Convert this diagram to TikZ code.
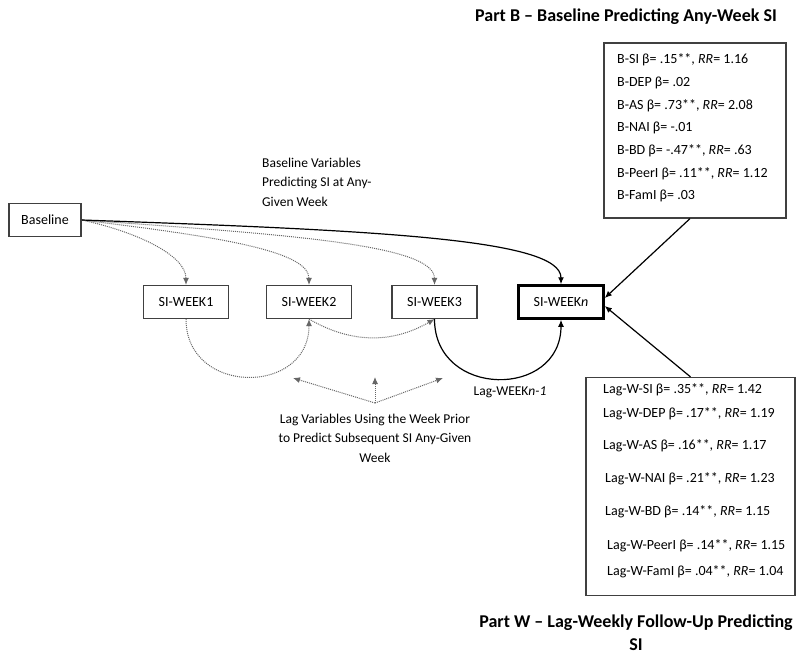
\documentclass[tikz,border=0pt]{standalone}
\usepackage{fontspec}
\setmainfont{Carlito}
\usetikzlibrary{positioning, arrows.meta}

\begin{document}
\begin{tikzpicture}[
    x=1pt, y=-1pt,
    >={Latex[length=7pt,width=6pt]},
    every node/.style={font=\fontsize{14}{17}\selectfont},
    weekbox/.style={draw=black!75, line width=1.2pt, minimum width=85pt, minimum height=33pt, inner sep=2pt},
    listbox/.style={draw=black!75, line width=1.2pt},
    item/.style={anchor=west, inner sep=0pt},
    lbl/.style={inner sep=0pt, align=center, font=\fontsize{13.5}{19.5}\selectfont},
    title/.style={inner sep=0pt, align=center, font=\fontsize{18}{23}\selectfont\bfseries},
    dotline/.style={densely dotted, draw=black!60, line width=1pt},
    solidline/.style={draw=black, line width=1.2pt}]

    \useasboundingbox (0,0) rectangle (800,658);

    \node[weekbox, minimum width=72pt] (base) at (45,220) {Baseline};
    \node[weekbox] (w1) at (186,302) {SI-WEEK1};
    \node[weekbox] (w2) at (309,302) {SI-WEEK2};
    \node[weekbox] (w3) at (434.5,302) {SI-WEEK3};
    \node[weekbox, draw=black, line width=2.5pt] (wn) at (561,302) {SI-WEEK\textit{n}};

    %%% Result boxes
    \node[listbox, minimum width=182pt, minimum height=175pt] (bbox) at (695,130.5) {};
    \foreach \y/\txt [count=\i] in {
        60/{B-SI β= .15**, \textit{RR}= 1.16},
        83/{B-DEP β= .02},
        106/{B-AS β= .73**, \textit{RR}= 2.08},
        128/{B-NAI β= -.01},
        151/{B-BD β= -.47**, \textit{RR}= .63},
        174/{B-PeerI β= .11**, \textit{RR}= 1.12},
        196/{B-FamI β= .03}}
        \node[item] (b\i) at (617,\y) {\txt};

    \node[listbox, minimum width=209pt, minimum height=218pt] (wbox) at (690.5,486.5) {};
    \foreach \x/\y/\txt [count=\i] in {
        603/390/{Lag-W-SI β= .35**, \textit{RR}= 1.42},
        603/414/{Lag-W-DEP β= .17**, \textit{RR}= 1.19},
        603/446/{Lag-W-AS β= .16**, \textit{RR}= 1.17},
        605/479/{Lag-W-NAI β= .21**, \textit{RR}= 1.23},
        605/512/{Lag-W-BD β= .14**, \textit{RR}= 1.15},
        607/546/{Lag-W-PeerI β= .14**, \textit{RR}= 1.15},
        607/572/{Lag-W-FamI β= .04**, \textit{RR}= 1.04}}
        \node[item] (l\i) at (\x,\y) {\txt};

    %%% Titles and labels
    \node[title] (partb) at (626,17) {Part B – Baseline Predicting Any-Week SI};
    \node[title] (partw) at (636,633) {Part W – Lag-Weekly Follow-Up Predicting\\SI};
    \node[lbl, align=left, anchor=west] (basevar) at (262,182) {Baseline Variables\\Predicting SI at Any-\\Given Week};
    \node[lbl] (lagvar) at (375,438) {Lag Variables Using the Week Prior\\to Predict Subsequent SI Any-Given\\Week};
    \node[lbl] (lagn) at (510,392) {Lag-WEEK\textit{n-1}};

    %%% Baseline paths
    \draw[dotline, ->] (base.east) to[out=-12, in=90, out distance=55pt, in distance=30pt] (w1.north);
    \draw[dotline, ->] (base.east) to[out=-7, in=90, out distance=130pt, in distance=35pt] (w2.north);
    \draw[dotline, ->] (base.east) to[out=-4, in=90, out distance=210pt, in distance=40pt] (w3.north);
    \draw[solidline, ->] (base.east) to[out=-2, in=90, out distance=300pt, in distance=45pt] (wn.north);

    %%% Lag paths
    \draw[dotline, ->] (w1.south) to[out=-90, in=-90, looseness=1.6] (w2.south);
    \draw[dotline, ->] (w2.south) to[out=-30, in=-150] (w3.south);
    \draw[solidline, ->] (w3.south) to[out=-90, in=-90, looseness=1.6] (wn.south);

    \coordinate (lagsrc) at (375,403);
    \coordinate (lagl) at (293,378);
    \coordinate (lagm) at (375,377);
    \coordinate (lagr) at (443,378);
    \draw[dotline, ->] (lagsrc) -- (lagl);
    \draw[dotline, ->] (lagsrc) -- (lagm);
    \draw[dotline, ->] (lagsrc) -- (lagr);

    %%% Results to SI-WEEKn
    \draw[solidline, ->] ([xshift=-5pt]bbox.south) -- ([yshift=4pt]wn.east);
    \draw[solidline, ->] (wbox.north) -- ([yshift=-4pt]wn.east);

\end{tikzpicture}
\end{document}
